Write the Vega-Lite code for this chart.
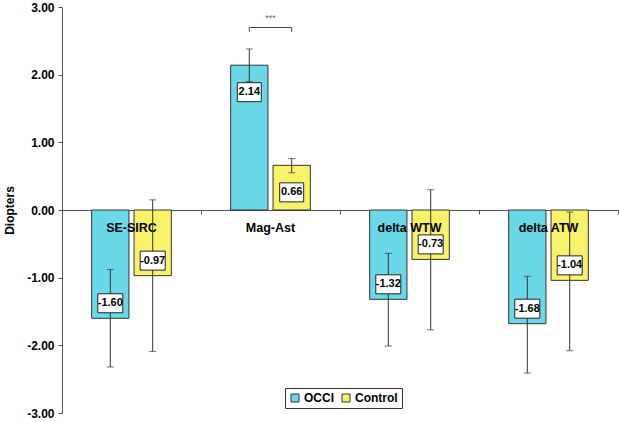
{
  "$schema": "https://vega.github.io/schema/vega-lite/v6.json",
  "width": 556,
  "height": 406,
  "autosize": {"type": "none"},
  "padding": {"left": 62, "top": 7, "right": 1, "bottom": 9},
  "background": "white",
  "config": {"font": "Liberation Sans", "view": {"stroke": null}},
  "datasets": {
    "bars": [
      {"cat": "SE-SIRC", "series": "OCCI", "value": -1.60, "lo": -2.32, "hi": -0.88},
      {"cat": "SE-SIRC", "series": "Control", "value": -0.97, "lo": -2.09, "hi": 0.15},
      {"cat": "Mag-Ast", "series": "OCCI", "value": 2.14, "lo": 1.90, "hi": 2.38},
      {"cat": "Mag-Ast", "series": "Control", "value": 0.66, "lo": 0.55, "hi": 0.76},
      {"cat": "delta WTW", "series": "OCCI", "value": -1.32, "lo": -2.01, "hi": -0.64},
      {"cat": "delta WTW", "series": "Control", "value": -0.73, "lo": -1.77, "hi": 0.30},
      {"cat": "delta ATW", "series": "OCCI", "value": -1.68, "lo": -2.41, "hi": -0.98},
      {"cat": "delta ATW", "series": "Control", "value": -1.04, "lo": -2.08, "hi": -0.03}
    ],
    "bracket": [
      {"cat": "Mag-Ast", "series": "OCCI", "y": 2.635, "ord": 1},
      {"cat": "Mag-Ast", "series": "OCCI", "y": 2.697, "ord": 2},
      {"cat": "Mag-Ast", "series": "Control", "y": 2.697, "ord": 3},
      {"cat": "Mag-Ast", "series": "Control", "y": 2.635, "ord": 4}
    ]
  },
  "data": {"name": "bars"},
  "transform": [
    {"calculate": "replace(format(datum.value, '.2f'), '\u2212', '-')", "as": "label"}
  ],
  "layer": [
    {
      "mark": {"type": "bar", "stroke": "#333333", "strokeWidth": 1},
      "encoding": {
        "x": {
          "field": "cat", "type": "nominal",
          "sort": ["SE-SIRC", "Mag-Ast", "delta WTW", "delta ATW"],
          "scale": {"paddingInner": 0, "paddingOuter": 0},
          "axis": {
            "orient": "bottom", "offset": -203, "labels": false, "title": null,
            "domainColor": "#555555", "tickColor": "#555555", "tickSize": 4,
            "tickBand": "extent", "grid": false
          }
        },
        "xOffset": {
          "field": "series", "type": "nominal", "sort": ["OCCI", "Control"],
          "scale": {"paddingInner": 0.12, "paddingOuter": 0.7}
        },
        "y": {
          "field": "value", "type": "quantitative",
          "scale": {"domain": [-3, 3], "nice": false},
          "axis": {
            "values": [-3, -2, -1, 0, 1, 2, 3],
            "format": ".2f",
            "labelExpr": "replace(datum.label, '\u2212', '-')",
            "labelFontSize": 12, "labelFontWeight": "bold", "labelColor": "#000000",
            "domainColor": "#555555", "tickColor": "#555555", "tickSize": 4,
            "labelPadding": 4, "grid": false,
            "title": "Diopters", "titleFontSize": 12, "titleFontWeight": "bold",
            "titleColor": "#000000", "titlePadding": 10
          }
        },
        "color": {
          "field": "series", "type": "nominal",
          "scale": {"domain": ["OCCI", "Control"], "range": ["#6AD8E8", "#F8F268"]},
          "legend": {
            "title": null, "orient": "none", "legendX": 223, "legendY": 381,
            "direction": "horizontal", "strokeColor": "#333333", "padding": 4,
            "fillColor": "white",
            "labelFontSize": 12, "labelFontWeight": "bold", "labelColor": "#000000",
            "symbolType": "square", "symbolSize": 64, "symbolStrokeColor": "#333333",
            "symbolStrokeWidth": 1, "columnPadding": 6, "labelOffset": 3
          }
        }
      }
    },
    {
      "transform": [{"filter": "datum.series == 'OCCI'"}],
      "mark": {"type": "text", "fontSize": 12.5, "fontWeight": "bold", "color": "#000000", "dy": 18, "baseline": "middle"},
      "encoding": {
        "x": {"field": "cat", "type": "nominal", "sort": ["SE-SIRC", "Mag-Ast", "delta WTW", "delta ATW"]},
        "y": {"datum": 0},
        "text": {"field": "cat"}
      }
    },
    {
      "mark": {"type": "rule", "color": "#333333", "strokeWidth": 1},
      "encoding": {
        "x": {"field": "cat", "type": "nominal", "sort": ["SE-SIRC", "Mag-Ast", "delta WTW", "delta ATW"]},
        "xOffset": {"field": "series", "type": "nominal", "sort": ["OCCI", "Control"]},
        "y": {"field": "lo", "type": "quantitative"},
        "y2": {"field": "hi"}
      }
    },
    {
      "mark": {"type": "tick", "orient": "horizontal", "color": "#333333", "size": 7, "thickness": 1},
      "encoding": {
        "x": {"field": "cat", "type": "nominal", "sort": ["SE-SIRC", "Mag-Ast", "delta WTW", "delta ATW"]},
        "xOffset": {"field": "series", "type": "nominal", "sort": ["OCCI", "Control"]},
        "y": {"field": "lo", "type": "quantitative"}
      }
    },
    {
      "mark": {"type": "tick", "orient": "horizontal", "color": "#333333", "size": 7, "thickness": 1},
      "encoding": {
        "x": {"field": "cat", "type": "nominal", "sort": ["SE-SIRC", "Mag-Ast", "delta WTW", "delta ATW"]},
        "xOffset": {"field": "series", "type": "nominal", "sort": ["OCCI", "Control"]},
        "y": {"field": "hi", "type": "quantitative"}
      }
    },
    {
      "transform": [{"filter": "datum.value < 0"}],
      "mark": {"type": "point", "filled": true, "fill": "white", "stroke": "#222222", "strokeWidth": 1, "opacity": 1,
               "shape": "M-0.625,-1.225L0.625,-1.225L0.625,-0.275L-0.625,-0.275Z", "size": 1600},
      "encoding": {
        "x": {"field": "cat", "type": "nominal", "sort": ["SE-SIRC", "Mag-Ast", "delta WTW", "delta ATW"]},
        "xOffset": {"field": "series", "type": "nominal", "sort": ["OCCI", "Control"]},
        "y": {"field": "value", "type": "quantitative"}
      }
    },
    {
      "transform": [{"filter": "datum.value >= 0"}],
      "mark": {"type": "point", "filled": true, "fill": "white", "stroke": "#222222", "strokeWidth": 1, "opacity": 1,
               "shape": "M-0.6,0.875L0.6,0.875L0.6,1.825L-0.6,1.825Z", "size": 1600},
      "encoding": {
        "x": {"field": "cat", "type": "nominal", "sort": ["SE-SIRC", "Mag-Ast", "delta WTW", "delta ATW"]},
        "xOffset": {"field": "series", "type": "nominal", "sort": ["OCCI", "Control"]},
        "y": {"field": "value", "type": "quantitative"}
      }
    },
    {
      "transform": [{"filter": "datum.value < 0"}],
      "mark": {"type": "text", "fontSize": 11, "fontWeight": "bold", "color": "#000000", "dy": -15, "baseline": "middle"},
      "encoding": {
        "x": {"field": "cat", "type": "nominal", "sort": ["SE-SIRC", "Mag-Ast", "delta WTW", "delta ATW"]},
        "xOffset": {"field": "series", "type": "nominal", "sort": ["OCCI", "Control"]},
        "y": {"field": "value", "type": "quantitative"},
        "text": {"field": "label"}
      }
    },
    {
      "transform": [{"filter": "datum.value >= 0"}],
      "mark": {"type": "text", "fontSize": 11, "fontWeight": "bold", "color": "#000000", "dy": 27, "baseline": "middle"},
      "encoding": {
        "x": {"field": "cat", "type": "nominal", "sort": ["SE-SIRC", "Mag-Ast", "delta WTW", "delta ATW"]},
        "xOffset": {"field": "series", "type": "nominal", "sort": ["OCCI", "Control"]},
        "y": {"field": "value", "type": "quantitative"},
        "text": {"field": "label"}
      }
    },
    {
      "data": {"name": "bracket"},
      "mark": {"type": "line", "color": "#444444", "strokeWidth": 1},
      "encoding": {
        "x": {"field": "cat", "type": "nominal", "sort": ["SE-SIRC", "Mag-Ast", "delta WTW", "delta ATW"]},
        "xOffset": {"field": "series", "type": "nominal", "sort": ["OCCI", "Control"]},
        "y": {"field": "y", "type": "quantitative"},
        "order": {"field": "ord", "type": "quantitative"}
      }
    },
    {
      "data": {"values": [{"cat": "Mag-Ast", "sig": "***"}]},
      "mark": {"type": "text", "fontSize": 9, "color": "#666666", "baseline": "middle"},
      "encoding": {
        "x": {"field": "cat", "type": "nominal", "sort": ["SE-SIRC", "Mag-Ast", "delta WTW", "delta ATW"]},
        "y": {"datum": 2.84},
        "text": {"field": "sig"}
      }
    }
  ]
}
